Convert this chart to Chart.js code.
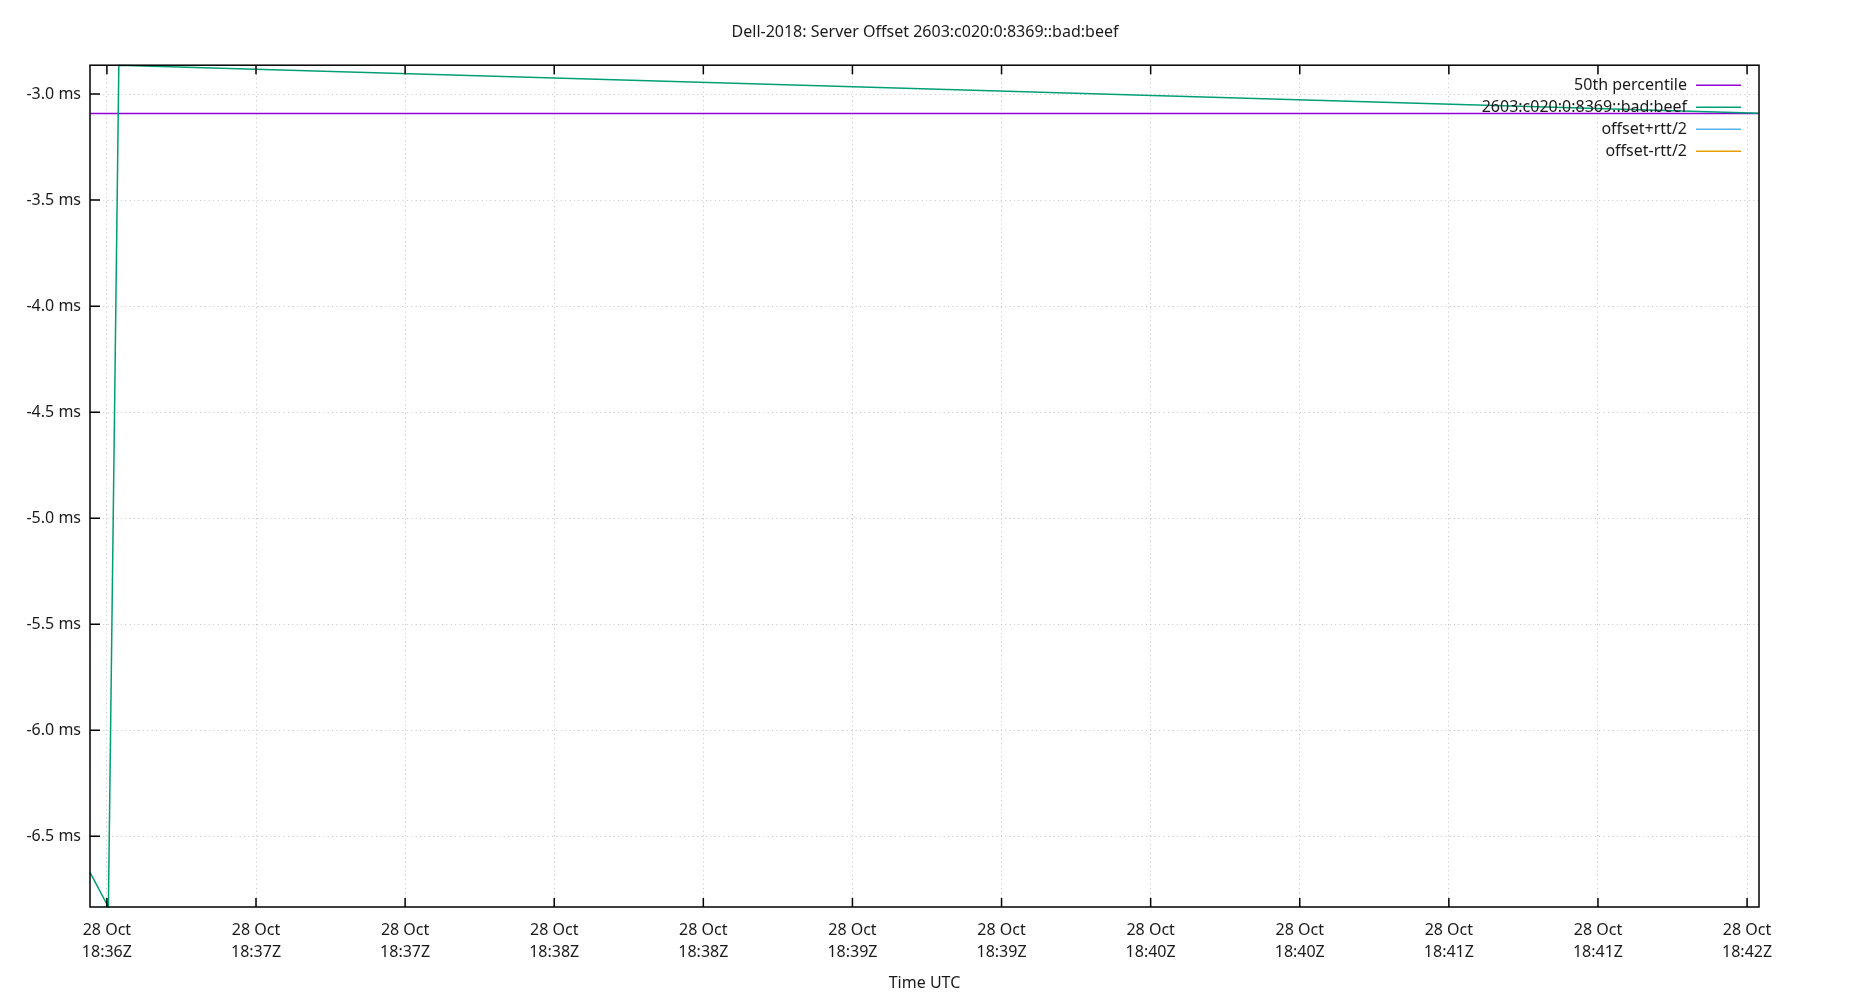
<!DOCTYPE html>
<html>
<head>
<meta charset="utf-8">
<title>Server Offset</title>
<script src="https://cdn.jsdelivr.net/npm/chart.js@4/dist/chart.umd.min.js"></script>
<style>
  html, body { margin: 0; padding: 0; background: #fff; }
  #wrap { width: 1850px; height: 1000px; }
</style>
</head>
<body>
<div id="wrap"><canvas id="offsetChart" width="1850" height="1000"></canvas></div>
<script>
// Zeiten in Sekunden nach 28 Oct 18:36:00Z
const sampleTimes = [26.6, 30.3, 32.4, 362.4];
const offsetValues = [-6.67, -6.833, -2.864, -3.09];
const plusHalfRtt = [];
const minusHalfRtt = [];
const percentile50 = -3.0915;

const seriesNames = ["50th percentile", "2603:c020:0:8369::bad:beef", "offset+rtt/2", "offset-rtt/2"];

const xTickValues = [30, 60, 90, 120, 150, 180, 210, 240, 270, 300, 330, 360];
const xTickDate = "28 Oct";
const xTickTimes = ["18:36Z", "18:37Z", "18:37Z", "18:38Z", "18:38Z", "18:39Z",
                    "18:39Z", "18:40Z", "18:40Z", "18:41Z", "18:41Z", "18:42Z"];
const yTickValues = [-3.0, -3.5, -4.0, -4.5, -5.0, -5.5, -6.0, -6.5];

const FONT = "'Noto Sans', sans-serif";
const TEXT = "#1a1a1a";

function toPoints(xs, ys) {
  return ys.map((y, i) => ({ x: xs[i], y: y }));
}

// Rahmen, Ticks nach innen und Legende wie bei gnuplot
const gnuplotFrame = {
  id: "gnuplotFrame",
  afterDraw(chart) {
    const ctx = chart.ctx;
    const area = chart.chartArea;
    const xs = chart.scales.x;
    const ys = chart.scales.y;
    ctx.save();
    ctx.strokeStyle = "#000";
    ctx.lineWidth = 1.5;
    ctx.beginPath();
    xs.ticks.forEach((t) => {
      const px = xs.getPixelForValue(t.value);
      ctx.moveTo(px, area.bottom);
      ctx.lineTo(px, area.bottom - 9);
      ctx.moveTo(px, area.top);
      ctx.lineTo(px, area.top + 9);
    });
    ys.ticks.forEach((t) => {
      const py = ys.getPixelForValue(t.value);
      ctx.moveTo(area.left, py);
      ctx.lineTo(area.left + 10, py);
    });
    ctx.stroke();
    ctx.strokeRect(area.left, area.top, area.right - area.left, area.bottom - area.top);

    // Legende oben rechts
    ctx.font = "16px " + FONT;
    ctx.textAlign = "right";
    ctx.textBaseline = "middle";
    chart.data.datasets.forEach((ds, i) => {
      const y = area.top + 20 + i * 22;
      ctx.fillStyle = TEXT;
      ctx.fillText(ds.label, area.right - 72, y);
      ctx.strokeStyle = ds.borderColor;
      ctx.lineWidth = 1.5;
      ctx.beginPath();
      ctx.moveTo(area.right - 63, y);
      ctx.lineTo(area.right - 18, y);
      ctx.stroke();
    });
    ctx.restore();
  },
};

function initChart() {
  const xFirst = sampleTimes[0];
  const xLast = sampleTimes[sampleTimes.length - 1];

  const data = {
    datasets: [
      {
        label: seriesNames[0],
        data: [{ x: xFirst, y: percentile50 }, { x: xLast, y: percentile50 }],
        borderColor: "#9400d3",
        order: 4,
      },
      {
        label: seriesNames[1],
        data: toPoints(sampleTimes, offsetValues),
        borderColor: "#009e73",
        order: 1,
      },
      {
        label: seriesNames[2],
        data: toPoints(sampleTimes, plusHalfRtt),
        borderColor: "#56b4e9",
        order: 2,
      },
      {
        label: seriesNames[3],
        data: toPoints(sampleTimes, minusHalfRtt),
        borderColor: "#e69f00",
        order: 3,
      },
    ],
  };

  const config = {
    type: "line",
    data: data,
    options: {
      responsive: false,
      animation: false,
      devicePixelRatio: 1,
      layout: { padding: 0 },
      elements: {
        line: { borderWidth: 1.5, tension: 0, fill: false },
        point: { radius: 0 },
      },
      plugins: {
        legend: { display: false },
        tooltip: { enabled: false },
        title: {
          display: true,
          text: "Dell-2018: Server Offset 2603:c020:0:8369::bad:beef",
          color: TEXT,
          font: { family: FONT, size: 16, weight: "normal", lineHeight: 1.2 },
          padding: { top: 23, bottom: 23 },
        },
      },
      scales: {
        x: {
          type: "linear",
          bounds: "data",
          afterBuildTicks: (scale) => {
            scale.ticks = xTickValues.map((v) => ({ value: v }));
          },
          afterFit: (scale) => {
            scale.height = 93;
          },
          ticks: {
            autoSkip: false,
            maxRotation: 0,
            padding: 12,
            color: TEXT,
            font: { family: FONT, size: 16, lineHeight: 1.375 },
            callback: (value) => [xTickDate, xTickTimes[xTickValues.indexOf(value)]],
          },
          grid: { color: "#c4c4c4", lineWidth: 1, drawTicks: false },
          border: { display: false, dash: [1, 3.4] },
          title: {
            display: true,
            text: "Time UTC",
            color: TEXT,
            font: { family: FONT, size: 16, lineHeight: 1.2 },
            padding: { top: 7, bottom: 7 },
          },
        },
        y: {
          type: "linear",
          bounds: "data",
          afterBuildTicks: (scale) => {
            scale.ticks = yTickValues.map((v) => ({ value: v }));
          },
          afterFit: (scale) => {
            scale.width = 90;
          },
          ticks: {
            padding: 9,
            color: TEXT,
            font: { family: FONT, size: 16 },
            callback: (value) => value.toFixed(1) + " ms",
          },
          grid: { color: "#c4c4c4", lineWidth: 1, drawTicks: false },
          border: { display: false, dash: [1, 3.4] },
        },
        // leere rechte Achse, nur als Rand damit der Titel mittig bleibt
        yRight: {
          type: "linear",
          position: "right",
          afterFit: (scale) => {
            scale.width = 91;
          },
          ticks: { display: false },
          grid: { display: false, drawTicks: false },
          border: { display: false },
        },
      },
    },
    plugins: [gnuplotFrame],
  };

  new Chart(document.getElementById("offsetChart"), config);
}

document.addEventListener("DOMContentLoaded", initChart);
</script>
</body>
</html>
